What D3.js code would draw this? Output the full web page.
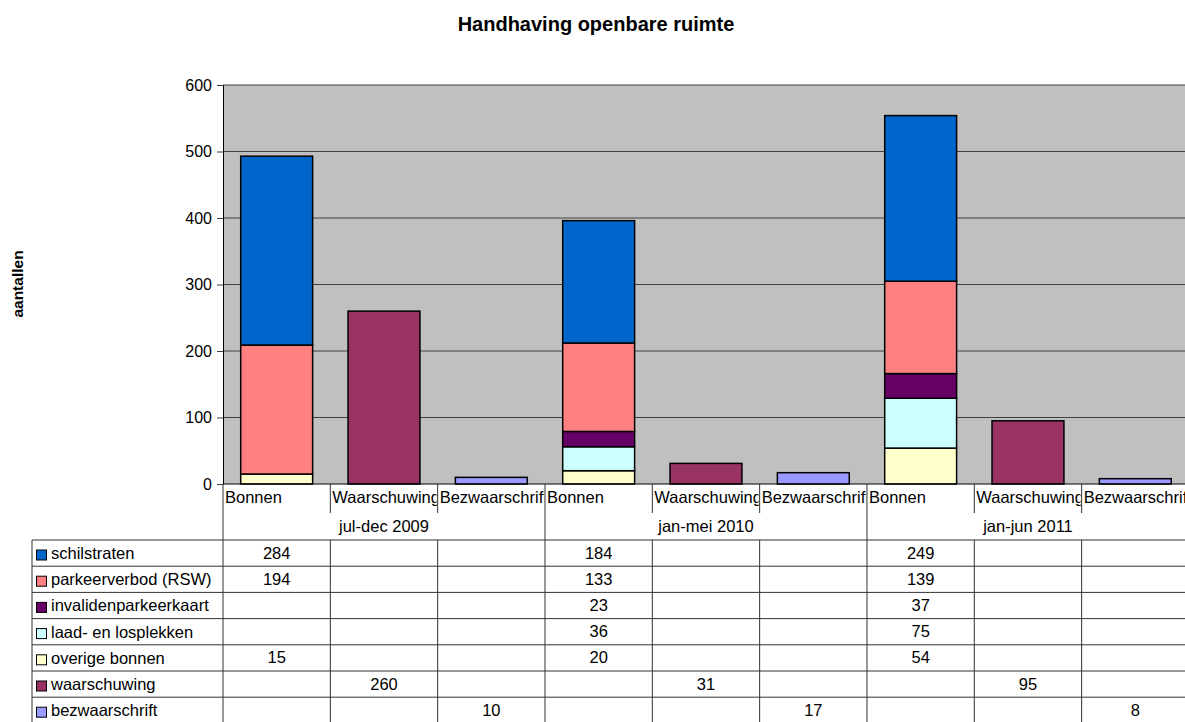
<!DOCTYPE html>
<html>
<head>
<meta charset="utf-8">
<script src="https://cdn.jsdelivr.net/npm/d3@7"></script>
<style>
  body { margin: 0; background: #fff; }
  svg { font-family: "Liberation Sans", Arial, sans-serif; }
</style>
</head>
<body>
<script>
// categories (bottom axis) and their groups
var categories = ["Bonnen", "Waarschuwing", "Bezwaarschrift",
                  "Bonnen", "Waarschuwing", "Bezwaarschrift",
                  "Bonnen", "Waarschuwing", "Bezwaarschrift"];
var groups = ["jul-dec 2009", "jan-mei 2010", "jan-jun 2011"];

// series values, null = empty cell
var schilstraten       = [284, null, null, 184, null, null, 249, null, null];
var parkeerverbod      = [194, null, null, 133, null, null, 139, null, null];
var invaliden          = [null, null, null, 23, null, null, 37, null, null];
var laadLos            = [null, null, null, 36, null, null, 75, null, null];
var overigeBonnen      = [15, null, null, 20, null, null, 54, null, null];
var waarschuwing       = [null, 260, null, null, 31, null, null, 95, null];
var bezwaarschrift     = [null, null, 10, null, null, 17, null, null, 8];

var yTicks = [0, 100, 200, 300, 400, 500, 600];

// legend / table order (top to bottom)
var series = [
  {name: "schilstraten", values: schilstraten, color: "#0066CC"},
  {name: "parkeerverbod (RSW)", values: parkeerverbod, color: "#FF8080"},
  {name: "invalidenparkeerkaart", values: invaliden, color: "#660066"},
  {name: "laad- en losplekken", values: laadLos, color: "#CCFFFF"},
  {name: "overige bonnen", values: overigeBonnen, color: "#FFFFCC"},
  {name: "waarschuwing", values: waarschuwing, color: "#993366"},
  {name: "bezwaarschrift", values: bezwaarschrift, color: "#9999FF"}
];

var W = 1185, H = 722;
var plotLeft = 223, plotTop = 85, plotBottom = 484;
var step = 107.33;
var plotRight = plotLeft + step * categories.length;
var fs = "16.5px";

var svg = d3.select("body").append("svg")
  .attr("width", W).attr("height", H);

// title
svg.append("text")
  .attr("x", 596).attr("y", 31)
  .attr("text-anchor", "middle")
  .style("font-size", "20px").style("font-weight", "bold")
  .text("Handhaving openbare ruimte");

// y label
svg.append("text")
  .attr("transform", "translate(23,284) rotate(-90)")
  .attr("text-anchor", "middle")
  .style("font-size", "15.5px").style("font-weight", "bold")
  .text("aantallen");

var x = d3.scaleBand()
  .domain(d3.range(categories.length))
  .range([plotLeft, plotRight])
  .paddingInner(0.33).paddingOuter(0.165);

var y = d3.scaleLinear().domain([0, 600]).range([plotBottom, plotTop]);

// plot background
svg.append("rect")
  .attr("x", plotLeft).attr("y", plotTop)
  .attr("width", plotRight - plotLeft).attr("height", plotBottom - plotTop)
  .attr("fill", "#C0C0C0");

// gridlines
svg.append("g").selectAll("line")
  .data(yTicks.filter(function(d) { return d > 0; }))
  .enter().append("line")
  .attr("x1", plotLeft).attr("x2", plotRight)
  .attr("y1", function(d) { return y(d); })
  .attr("y2", function(d) { return y(d); })
  .attr("stroke", "#404040").attr("stroke-width", 1);

// stacked bars: bottom series first
var stackOrder = series.slice().reverse();
var rows = categories.map(function(c, i) {
  var r = {i: i};
  stackOrder.forEach(function(s) { r[s.name] = s.values[i] || 0; });
  return r;
});
var stack = d3.stack().keys(stackOrder.map(function(s) { return s.name; }));
var layers = stack(rows);

svg.append("g").selectAll("g")
  .data(layers)
  .enter().append("g")
  .attr("fill", function(d, k) { return stackOrder[k].color; })
  .selectAll("rect")
  .data(function(d) { return d.filter(function(p) { return p[1] - p[0] > 0; }); })
  .enter().append("rect")
  .attr("x", function(d) { return x(d.data.i); })
  .attr("width", x.bandwidth())
  .attr("y", function(d) { return y(d[1]); })
  .attr("height", function(d) { return y(d[0]) - y(d[1]); })
  .attr("stroke", "#000").attr("stroke-width", 1.5);

// y axis
var yAxis = svg.append("g")
  .attr("transform", "translate(" + plotLeft + ",0)")
  .call(d3.axisLeft(y).tickValues(yTicks).tickSize(6).tickPadding(5));
yAxis.select(".domain").attr("stroke", "#000");
yAxis.selectAll(".tick line").attr("stroke", "#404040");
yAxis.selectAll("text").style("font-size", "16px").style("font-family", "Liberation Sans, Arial, sans-serif").attr("fill", "#000");

// x axis line
svg.append("line")
  .attr("x1", plotLeft).attr("x2", plotRight)
  .attr("y1", plotBottom).attr("y2", plotBottom)
  .attr("stroke", "#000");

// header area: category labels (clipped) and group labels
var tableTop = 540, rowH = 26.2;
var lineCol = "#333";
var defs = svg.append("defs");
categories.forEach(function(c, i) {
  var x0 = plotLeft + i * step;
  defs.append("clipPath").attr("id", "clip" + i)
    .append("rect").attr("x", x0 + 1).attr("y", plotBottom)
    .attr("width", step - 2).attr("height", 30);
  svg.append("text")
    .attr("clip-path", "url(#clip" + i + ")")
    .attr("x", x0 + 2).attr("y", plotBottom + 19)
    .style("font-size", fs)
    .text(c);
  // separator
  var isGroupEdge = i % 3 === 0;
  svg.append("line")
    .attr("x1", x0).attr("x2", x0)
    .attr("y1", plotBottom).attr("y2", isGroupEdge ? tableTop : plotBottom + 29)
    .attr("stroke", lineCol);
});
groups.forEach(function(g, k) {
  svg.append("text")
    .attr("x", plotLeft + (k * 3 + 1.5) * step).attr("y", plotBottom + 48)
    .attr("text-anchor", "middle")
    .style("font-size", fs)
    .text(g);
});

// data table
var tableLeft = 32;
series.forEach(function(s, r) {
  var ty = tableTop + r * rowH;
  svg.append("line")
    .attr("x1", tableLeft).attr("x2", plotRight)
    .attr("y1", ty).attr("y2", ty).attr("stroke", lineCol);
  svg.append("rect")
    .attr("x", tableLeft + 4.5).attr("y", ty + 10)
    .attr("width", 10).attr("height", 10)
    .attr("fill", s.color).attr("stroke", "#000").attr("stroke-width", 1);
  svg.append("text")
    .attr("x", tableLeft + 19).attr("y", ty + 19)
    .style("font-size", fs)
    .text(s.name);
  s.values.forEach(function(v, i) {
    if (v == null) return;
    svg.append("text")
      .attr("x", plotLeft + (i + 0.5) * step).attr("y", ty + 18.5)
      .attr("text-anchor", "middle")
      .style("font-size", fs)
      .text(v);
  });
});
var tableBottom = tableTop + series.length * rowH;
svg.append("line")
  .attr("x1", tableLeft).attr("x2", plotRight)
  .attr("y1", tableBottom).attr("y2", tableBottom).attr("stroke", lineCol);
svg.append("line")
  .attr("x1", tableLeft).attr("x2", tableLeft)
  .attr("y1", tableTop).attr("y2", tableBottom).attr("stroke", lineCol);
d3.range(categories.length + 1).forEach(function(i) {
  var xx = plotLeft + i * step;
  svg.append("line")
    .attr("x1", xx).attr("x2", xx)
    .attr("y1", tableTop).attr("y2", tableBottom).attr("stroke", lineCol);
});
</script>
</body>
</html>
